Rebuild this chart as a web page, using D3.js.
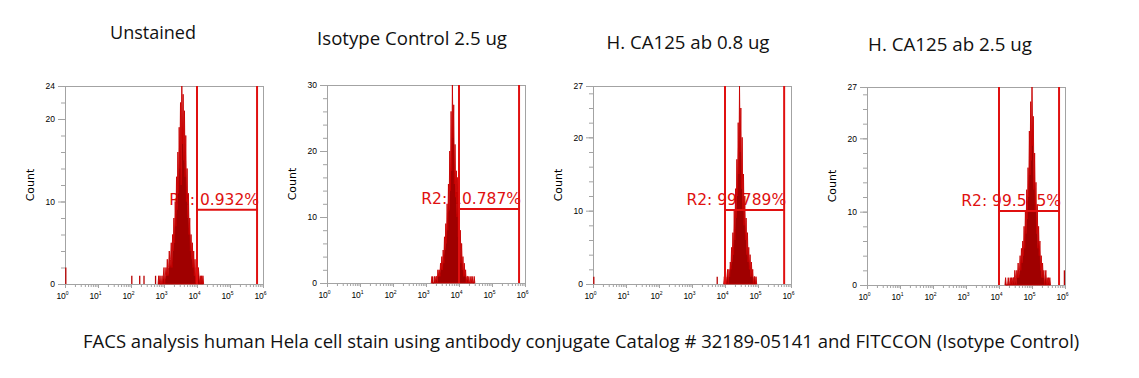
<!DOCTYPE html>
<html><head><meta charset="utf-8">
<script src="https://cdn.jsdelivr.net/npm/d3@7"></script>
<style>body{margin:0;background:#fff}</style>
</head><body><svg id="c" width="1139" height="378"></svg>
<script>
// ---- data ----
const panelTitles = ["Unstained", "Isotype Control 2.5 ug", "H. CA125 ab 0.8 ug", "H. CA125 ab 2.5 ug"];
const caption = "FACS analysis human Hela cell stain using antibody conjugate Catalog # 32189-05141 and FITCCON (Isotype Control)";
const yMax = [24, 30, 27, 27];
const yTickLabels = [[0, 10, 20, 24], [0, 10, 20, 30], [0, 10, 20, 27], [0, 10, 20, 27]];
const xTickExponents = [0, 1, 2, 3, 4, 5, 6];
const gateLabels = ["R2: 0.932%", "R2: 10.787%", "R2: 99.789%", "R2: 99.585%"];
const gateLeft = [1e4, 1e4, 1e4, 1e4];
const gateRight = [6.6e5, 6.6e5, 6.2e5, 6.6e5];
const gateLevel = [9, 11.2, 10.1, 10.1];
// histogram channels (log10 of fluorescence) : first bin and bin width
const binStart = [2.84, 3.18, 3.98, 4.20];
const binWidth = 0.02;
const countsUnstained = [1,0,1,0,0,1,0,1,2,0,1,2,1,3,1,2,4,2,3,5,2,6,4,8,5,10,7,13,9,16,11,19,14,22,12,24,17,23,15,21,13,18,10,14,8,11,6,8,4,6,3,5,2,4,1,3,0,2,1,0,2,1,0,1,0,1,0,1];
const countsIsotype = [1,0,0,0,1,0,1,1,0,2,1,2,1,3,2,4,2,5,3,7,5,9,6,12,8,15,11,20,14,26,17,30,22,27,15,21,13,17,10,16,7,11,5,8,3,6,2,4,1,3,1,2,0,1,1,0,1,0,0,1,0,1,0,0,1];
const countsCA125low = [1,0,1,0,1,2,0,2,1,3,2,5,3,7,4,10,6,13,9,17,12,22,15,27,18,24,13,20,10,15,8,12,6,9,4,7,3,5,2,4,1,3,1,2,0,1,1,0,1];
const countsCA125high = [1,0,0,0,1,0,0,1,0,1,0,1,1,0,2,1,0,2,1,3,1,2,4,2,5,3,6,4,8,5,10,7,13,9,16,12,21,15,25,17,27,19,23,13,18,10,14,7,11,5,8,4,6,2,4,1,3,1,2,0,1,2,0,1,0,1,0,1];
// isolated events: log10 channel and count
const outlierLogs = [[0, 2.0, 2.24, 2.37, 2.72], [3.18], [0, 3.74], [6.0]];
const outlierCounts = [[2, 1, 1, 1, 1], [1], [1, 1], [2]];
const allCounts = [countsUnstained, countsIsotype, countsCA125low, countsCA125high];

// ---- layout ----
const lefts = [65, 327, 593, 867];
const tops = [86, 85, 86, 87];
const W = 198, H = 198;
const titleX = [153, 412, 688, 950];
const titleY = [39, 45, 49, 51];
const titleW = [86, 190, 163, 164];

const svg = d3.select("#c");
const grey = "#a3a3a3";
const red = "#e01010";

function fitText(sel, target, base) {
  const w = sel.node().getComputedTextLength();
  sel.attr("font-size", base * target / w);
}

panelTitles.forEach((t, i) => {
  const tx = svg.append("text").attr("x", titleX[i]).attr("y", titleY[i])
    .attr("text-anchor", "middle").attr("font-family", "Open Sans").attr("font-size", 18)
    .attr("fill", "#111").text(t);
  fitText(tx, titleW[i], 18);
});

const cap = svg.append("text").attr("x", 83).attr("y", 348)
  .attr("font-family", "Open Sans").attr("font-size", 17).attr("fill", "#111").text(caption);
fitText(cap, 997, 17);

for (let p = 0; p < 4; p++) {
  const g = svg.append("g").attr("transform", `translate(${lefts[p]},${tops[p]})`);
  const x = d3.scaleLog().domain([1, 1e6]).range([0, W]);
  const y = d3.scaleLinear().domain([0, yMax[p]]).range([H, 0]);

  // frame
  g.append("rect").attr("x", 0).attr("y", 0).attr("width", W).attr("height", H)
    .attr("fill", "none").attr("stroke", grey).attr("stroke-width", 1).attr("shape-rendering", "crispEdges");

  // y axis: minor ticks every 2, major labelled
  const yMinor = d3.range(0, yMax[p] + 0.01, 2);
  const yAxMinor = g.append("g").call(d3.axisLeft(y).tickValues(yMinor).tickSize(4).tickFormat(""));
  const yAxMajor = g.append("g").call(d3.axisLeft(y).tickValues(yTickLabels[p]).tickSize(7).tickPadding(3));
  [yAxMinor, yAxMajor].forEach(a => {
    a.select(".domain").attr("stroke", grey);
    a.selectAll(".tick line").attr("stroke", grey);
  });
  yAxMajor.selectAll(".tick text").attr("font-family", "Liberation Sans").attr("font-size", 8.5).attr("fill", "#000");

  // x axis: log minor ticks
  const xMinor = [];
  for (let e = 0; e < 6; e++) for (let k = 2; k <= 9; k++) xMinor.push(k * Math.pow(10, e));
  const xAxMinor = g.append("g").attr("transform", `translate(0,${H})`)
    .call(d3.axisBottom(x).tickValues(xMinor).tickSize(3).tickFormat(""));
  const xAxMajor = g.append("g").attr("transform", `translate(0,${H})`)
    .call(d3.axisBottom(x).tickValues(xTickExponents.map(e => Math.pow(10, e))).tickSize(4).tickFormat(""));
  [xAxMinor, xAxMajor].forEach(a => {
    a.select(".domain").attr("stroke", grey);
    a.selectAll(".tick line").attr("stroke", grey);
  });
  xAxMajor.selectAll(".tick").each(function(d, i) {
    const t = d3.select(this).append("text").attr("y", 15).attr("x", -3)
      .attr("text-anchor", "middle").attr("font-family", "Liberation Sans").attr("font-size", 8.5).attr("fill", "#000");
    t.append("tspan").text("10");
    t.append("tspan").attr("dy", -4).attr("font-size", 5).text(xTickExponents[i]);
  });

  // y label
  g.append("text").attr("transform", `translate(${-31},${H / 2}) rotate(-90)`)
    .attr("text-anchor", "middle").attr("font-family", "DejaVu Sans").attr("font-size", 11)
    .attr("fill", "#000").text("Count");

  // gate label (under histogram)
  g.append("text").attr("x", x(gateRight[p]) + 2).attr("y", y(gateLevel[p]) - 5)
    .attr("text-anchor", "end").attr("font-family", "DejaVu Sans").attr("font-size", 15.5)
    .attr("fill", red).text(gateLabels[p]);

  // histogram
  const counts = allCounts[p];
  const pts = counts.map((c, i) => ({ v: Math.pow(10, binStart[p] + i * binWidth), c }));
  pts.unshift({ v: Math.pow(10, binStart[p] - binWidth), c: 0 });
  pts.push({ v: Math.pow(10, binStart[p] + counts.length * binWidth), c: 0 });
  const area = d3.area().x(d => x(d.v)).y0(H).y1(d => y(d.c));
  g.append("path").datum(pts).attr("d", area)
    .attr("fill", "#a00000").attr("stroke", "#c80000").attr("stroke-width", 0.9).attr("stroke-linejoin", "miter");
  outlierLogs[p].forEach((lg, k) => {
    const xv = Math.min(x(Math.pow(10, lg)) + 0.8, W - 0.6);
    g.append("line").attr("x1", xv).attr("x2", xv).attr("y1", H).attr("y2", y(outlierCounts[p][k]))
      .attr("stroke", "#b80000").attr("stroke-width", 1.3);
  });

  // gate
  const gl = x(gateLeft[p]), gr = x(gateRight[p]);
  [gl, gr].forEach(xv => g.append("line").attr("x1", xv).attr("x2", xv).attr("y1", 0).attr("y2", H)
    .attr("stroke", red).attr("stroke-width", 2));
  g.append("line").attr("x1", gl).attr("x2", gr).attr("y1", y(gateLevel[p])).attr("y2", y(gateLevel[p]))
    .attr("stroke", red).attr("stroke-width", 2);
}
</script></body></html>
